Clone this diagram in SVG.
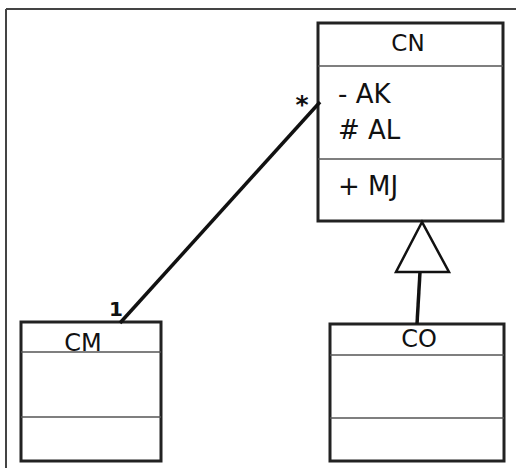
<svg xmlns="http://www.w3.org/2000/svg" width="518" height="470" viewBox="0 0 518 470">
<style>
.box{fill:#fff;stroke:#222;stroke-width:3}
.div{stroke:#555;stroke-width:1.5}
.t{font-family:"DejaVu Sans",sans-serif;fill:#111}
.conn{stroke:#111;stroke-width:3.5;fill:none}
</style>
<rect width="518" height="470" fill="#fff"/>
<g id="frame">
<line x1="6" y1="9" x2="516" y2="9" stroke="#444" stroke-width="2"/>
<line x1="6" y1="9" x2="6" y2="468" stroke="#444" stroke-width="2"/>
</g>
<g id="CN">
<rect class="box" x="318" y="23" width="185" height="198"/>
<line class="div" x1="318" y1="66" x2="503" y2="66"/>
<line class="div" x1="318" y1="159" x2="503" y2="159"/>
<text class="t" x="408" y="51" font-size="23" text-anchor="middle">CN</text>
<text class="t" x="338" y="103" font-size="26">- AK</text>
<text class="t" x="338" y="139" font-size="26"># AL</text>
<text class="t" x="338" y="195" font-size="26">+ MJ</text>
</g>
<g id="CM">
<rect class="box" x="21" y="322" width="140" height="139"/>
<line class="div" x1="21" y1="352" x2="161" y2="352"/>
<line class="div" x1="21" y1="417" x2="161" y2="417"/>
<text class="t" x="83" y="351" font-size="24" text-anchor="middle">CM</text>
</g>
<g id="CO">
<rect class="box" x="330" y="324" width="174" height="137"/>
<line class="div" x1="330" y1="355" x2="504" y2="355"/>
<line class="div" x1="330" y1="418" x2="504" y2="418"/>
<text class="t" x="419" y="347" font-size="24" text-anchor="middle">CO</text>
</g>
<g id="connectors">
<line class="conn" x1="120" y1="323" x2="320" y2="102"/>
<text class="t" x="116" y="316" font-size="20" font-weight="bold" text-anchor="middle">1</text>
<text class="t" x="302" y="113" font-size="25" font-weight="bold" text-anchor="middle">*</text>
<line class="conn" x1="420" y1="272" x2="417" y2="324"/>
<polygon points="422,222 396,272 449,272" fill="#fff" stroke="#111" stroke-width="2.5"/>
</g>
</svg>
